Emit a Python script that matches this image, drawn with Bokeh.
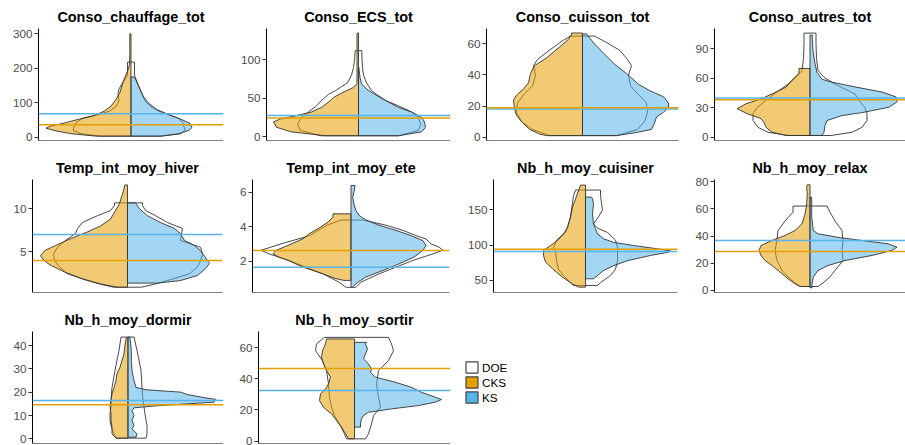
from bokeh.plotting import figure
from bokeh.models import Range1d, Span, FixedTicker, Legend, LegendItem, ColumnDataSource
from bokeh.layouts import row, column
from bokeh.embed import file_html
from bokeh.resources import INLINE

# ---------------- data ----------------
TITLES = ["Conso_chauffage_tot", "Conso_ECS_tot", "Conso_cuisson_tot", "Conso_autres_tot",
          "Temp_int_moy_hiver", "Temp_int_moy_ete", "Nb_h_moy_cuisiner", "Nb_h_moy_relax",
          "Nb_h_moy_dormir", "Nb_h_moy_sortir"]

Y_TICKS = [[0, 100, 200, 300], [0, 50, 100], [0, 20, 40, 60], [0, 30, 60, 90],
           [5, 10], [2, 4, 6], [50, 100, 150], [0, 20, 40, 60, 80],
           [0, 10, 20, 30, 40], [0, 20, 40, 60]]

# horizontal reference lines (CKS = orange, KS = blue)
CKS_LINE = [36, 24, 18.9, 38, 3.95, 2.64, 94.3, 28.6, 14.6, 46.5]
KS_LINE = [68, 27.4, 18.2, 40, 7.0, 1.67, 91, 36.7, 16.4, 32.4]

# half-violin profiles: (value, half-width)
CHAUFFAGE_CKS = [(3, 35), (10, 60), (18, 75), (26, 85), (33, 80), (40, 68), (50, 55), (62, 38), (75, 27), (90, 20),
                 (110, 15), (130, 11), (150, 9), (175, 6), (195, 3), (212, 1.5), (240, 1.2), (300, 1.2)]
CHAUFFAGE_KS = [(3, 30), (10, 48), (20, 58), (28, 61), (40, 59), (52, 50), (65, 38), (80, 26), (100, 17), (120, 12),
                (145, 8), (165, 5), (175, 3)]
ECS_CKS = [(1, 33), (6, 67), (12, 82), (19, 85), (23, 78), (27, 63), (32, 47), (38, 37), (47, 28), (51, 25), (58, 15),
           (64, 5), (69, 1.5), (100, 1.5), (135, 1.5)]
ECS_KS = [(1, 40), (6, 63), (12, 67), (19, 66), (25, 63), (32, 53), (38, 40), (47, 27), (56, 15), (62, 8), (69, 3),
          (77, 1.5), (86, 0.7), (90, 0.5)]
CUISSON_CKS = [(1, 36), (2, 43), (5, 53), (10, 61), (14, 66), (18, 68), (24, 69), (27, 66), (31, 59), (35, 54), (41, 52),
               (46, 48), (51, 36), (58, 23), (63, 14), (66, 11), (67, 11)]
CUISSON_KS = [(1, 34), (3, 54), (5, 69), (9, 72), (13, 74), (16, 81), (19, 86), (22, 86), (26, 81), (30, 67), (34, 56),
              (41, 44), (47, 32), (54, 21), (60, 12), (64, 7), (66.4, 4)]
AUTRES_CKS = [(1.7, 24), (5, 38), (10, 44), (15, 46), (19, 49), (24, 63), (29, 73), (34, 64), (39, 49), (44, 38),
              (51, 24), (58, 18), (65, 11), (70, 11)]
AUTRES_KS = [(1.7, 12), (5, 14), (12, 15), (17, 17), (22, 32), (25, 52), (30.5, 79), (36, 87), (41, 86), (46, 72),
             (51, 46), (56, 22), (59, 12), (66, 7), (75, 5), (88, 3), (100, 2.3), (104, 2.3)]
HIVER_CKS = [(0.82, 10), (1.2, 27), (1.8, 45), (2.6, 63), (3.4, 77), (3.9, 83), (4.5, 87), (5.1, 83), (5.7, 72),
             (6.5, 57), (7.3, 40), (8.0, 27), (8.8, 17), (9.8, 12), (10.6, 8), (11.4, 6), (12.1, 4), (12.8, 2.7)]
HIVER_KS = [(1.3, 30), (1.6, 53), (2.2, 70), (3.0, 78), (3.6, 82), (4.3, 78), (5.1, 73), (5.7, 67), (6.3, 57),
            (7.1, 53), (7.7, 47), (8.4, 33), (9.2, 20), (10.0, 12), (10.7, 8)]
ETE_CKS = [(0.9, 7), (1.0, 15), (1.28, 28), (1.67, 48), (2.06, 63), (2.25, 72), (2.44, 78), (2.64, 75), (2.93, 63),
           (3.31, 48), (3.6, 42), (3.9, 33), (4.28, 23), (4.57, 18), (4.76, 18)]
ETE_KS = [(0.51, 1.5), (0.6, 3), (0.8, 7), (1.1, 15), (1.48, 32), (1.86, 48), (2.25, 63), (2.64, 72), (2.93, 75),
          (3.2, 72), (3.5, 60), (3.8, 45), (4.1, 28), (4.4, 15), (4.67, 8), (4.96, 5), (5.25, 3.3), (5.73, 1.7),
          (6.1, 3.3), (6.4, 4)]
CUISINER_CKS = [(40.6, 7), (45, 13), (54.7, 23), (66.5, 33), (76, 40), (85.4, 42), (92.5, 42), (99.5, 35), (106.6, 28),
                (116, 22), (125.5, 18), (139.6, 15), (153.8, 13), (165.6, 10), (177, 7), (185, 5)]
CUISINER_KS = [(52.4, 8), (57, 12), (64, 18), (71, 28), (78, 42), (85.4, 65), (90, 83), (92, 85), (94.8, 72),
               (99.5, 48), (104, 28), (109, 18), (116, 12), (130, 8), (144, 7), (158, 8), (165.6, 7), (168, 6)]
RELAX_CKS = [(2.9, 10), (4.9, 15), (8.6, 22), (13.5, 30), (18.3, 38), (22, 45), (25.7, 49), (29.4, 51), (33, 49),
             (36.7, 38), (40.4, 25), (44, 15), (49, 8), (56, 5), (63.6, 3.3), (71, 2.7), (75.8, 3.3), (77.6, 2.7)]
RELAX_KS = [(2, 2), (4.9, 2), (9.8, 3.3), (14.7, 8), (18.3, 18), (22, 35), (25.7, 62), (29.4, 82), (31.8, 87),
            (34.3, 78), (36.7, 52), (39, 28), (41.6, 8), (44, 3.3), (53.8, 1.7), (63.6, 1.7), (68.5, 1.7)]
DORMIR_CKS = [(0.3, 12), (2.1, 16), (5, 16), (7.9, 17), (10.7, 17), (13.6, 18), (16.4, 17), (19.3, 16), (22, 14),
              (25, 12), (27.9, 11), (30.7, 8), (33.6, 6), (36.4, 4), (39.3, 3.3), (42, 2.3), (43.3, 1.7)]
DORMIR_KS = [(0.7, 8), (2.1, 9), (4.3, 4), (5.7, 6), (7.9, 4), (10, 6), (12, 4), (13.3, 6), (14.3, 33), (15.7, 86),
             (16.9, 88), (17.9, 73), (19, 59), (20, 53), (21, 19), (22, 8), (25, 6), (29.3, 4), (33.6, 3.3),
             (37.9, 3.3), (40.7, 2.7), (42.9, 2), (43.6, 2)]
SORTIR_CKS = [(1.5, 6), (4.7, 9), (9, 13), (13.2, 18), (17.5, 23), (21.7, 31), (26, 35), (30.3, 34), (33.5, 29),
              (36.7, 26), (41, 24), (45.2, 28), (49.5, 31), (53.7, 33), (58, 32), (62.3, 29), (65.5, 28)]
SORTIR_KS = [(9, 6), (11, 6), (14.3, 7), (16.4, 9), (18.5, 14), (20.7, 37), (22.8, 64), (25, 81), (26.7, 87),
             (28.1, 81), (31.3, 67), (34.5, 57), (37.7, 41), (41, 21), (44, 16), (46.3, 17), (49.5, 14), (52.7, 9),
             (55.9, 11), (59, 13), (62.3, 11), (63.3, 12)]

# full DOE violins: (value, left half-width, right half-width)
CHAUFFAGE_DOE = [(3, 30, 30), (10, 50, 50), (20, 58, 54), (30, 57, 53), (42, 55, 52), (55, 48, 47), (65, 33, 38),
                 (75, 22, 28), (88, 15, 20), (105, 12, 14), (125, 13, 11), (140, 12, 9), (160, 8, 6),
                 (180, 3.5, 3.5), (218, 3.5, 3.5)]
ECS_DOE = [(1, 38, 40), (8, 58, 60), (16, 61, 62), (25, 57, 60), (32, 50, 53), (40, 42, 40), (47, 37, 27),
           (55, 30, 18), (60, 23, 13), (70, 11, 8), (80, 7, 5), (90, 5, 4), (100, 4, 3.5), (112, 3.3, 3.3)]
CUISSON_DOE = [(1, 33, 34), (5, 50, 55), (10, 61, 62), (16, 66, 65), (22, 65, 64), (28, 58, 55), (33, 50, 48),
               (40, 47, 46), (46, 49, 49), (50, 45, 45), (56, 33, 37), (62, 20, 21), (65, 12, 12)]
AUTRES_DOE = [(1.7, 21, 21), (5, 42, 42), (10, 52, 52), (17, 57, 57), (24, 57, 57), (30, 53, 55), (36, 46, 50),
              (44, 36, 45), (54, 22, 25), (61, 14, 14), (68, 8, 8), (80, 6.5, 6.5), (95, 6, 6), (106, 6, 6)]
HIVER_DOE = [(0.82, 14, 14), (1.2, 28, 28), (1.6, 40, 40), (2.4, 60, 62), (3.2, 68, 70), (3.9, 73, 73),
             (4.7, 74, 75), (5.5, 70, 73), (6.3, 62, 53), (7.1, 52, 54), (7.7, 50, 55), (8.4, 45, 40),
             (9.2, 30, 28), (9.8, 17, 18), (10.4, 13, 15), (10.7, 13, 15)]
ETE_DOE = [(0.5, 5, 5), (0.8, 12, 10), (1.28, 28, 28), (1.67, 45, 45), (2.06, 62, 62), (2.44, 82, 82),
           (2.65, 90, 92), (2.83, 80, 88), (3.02, 70, 80), (3.3, 53, 75), (3.5, 41, 65), (3.8, 33, 52),
           (4.1, 24, 35), (4.4, 10, 12)]
CUISINER_DOE = [(43, 12, 12), (47, 15, 15), (57, 22, 25), (66, 27, 30), (78, 29, 32), (90, 30, 32), (97, 32, 32),
                (107, 29, 30), (118, 20, 22), (124, 18, 12), (130, 17, 8), (140, 15, 13), (150, 14, 17),
                (160, 13, 16), (170, 12, 15), (178, 10, 15)]
RELAX_DOE = [(2.9, 10, 8), (5.5, 15, 13), (10, 22, 20), (14.7, 28, 25), (22, 33, 33), (29.4, 35, 32),
             (36.7, 33, 33), (44, 32, 32), (51, 25, 25), (57.5, 17, 20), (62, 17, 17)]
DORMIR_DOE = [(0.3, 12, 18), (2.1, 14, 19), (4.3, 16, 19), (5.7, 17, 19), (7.9, 18, 18), (10.7, 18, 17),
              (13.6, 17, 16), (16.4, 17, 15), (22, 16, 14), (29.3, 13, 13), (37.9, 9, 9), (43.6, 7, 6)]
SORTIR_DOE = [(1.5, 8, 11), (4.7, 10, 14), (11, 15, 17), (16.4, 20, 19), (21.7, 23, 26), (28, 25, 24),
              (36.7, 26, 22), (45.2, 28, 24), (51.6, 32, 34), (58, 39, 39), (62.3, 38, 37), (66.5, 30, 34)]

DOE_PROFILES = [CHAUFFAGE_DOE, ECS_DOE, CUISSON_DOE, AUTRES_DOE, HIVER_DOE, ETE_DOE, CUISINER_DOE, RELAX_DOE,
                DORMIR_DOE, SORTIR_DOE]
CKS_PROFILES = [CHAUFFAGE_CKS, ECS_CKS, CUISSON_CKS, AUTRES_CKS, HIVER_CKS, ETE_CKS, CUISINER_CKS, RELAX_CKS,
                DORMIR_CKS, SORTIR_CKS]
KS_PROFILES = [CHAUFFAGE_KS, ECS_KS, CUISSON_KS, AUTRES_KS, HIVER_KS, ETE_KS, CUISINER_KS, RELAX_KS,
               DORMIR_KS, SORTIR_KS]

GROUPS = ["DOE", "CKS", "KS"]

# ---------------- layout / style ----------------
ORANGE = "#E69F00"
BLUE = "#56B4E9"
OUTLINE = "#333333"
FONT = "Liberation Sans"

# y ranges of each panel
Y_RANGES = [(-9.7, 315.5), (-5.2, 140.9), (-2.14, 69.9), (-3.4, 110.7),
            (0.2, 13.44), (0.2, 6.75), (33, 192.9), (-1.5, 81.5),
            (-2.0, 46.0), (-1.5, 70.25)]
# (fig width, fig height, border left, border right, border top, border bottom)
GEOM = [(227, 151, 38, 4, 28, 11), (227, 151, 39, 4, 28, 11), (227, 151, 32, 3, 28, 11), (224, 151, 33, 0, 28, 11),
        (227, 151, 32, 5, 28, 10), (227, 151, 25, 5, 28, 10), (227, 151, 39, 4, 28, 10), (224, 151, 33, 0, 28, 10),
        (227, 143, 32, 4, 29, 2), (227, 143, 31, 4, 29, 2)]


def half_shape(profile, side):
    ys = [p[0] for p in profile]
    ws = [p[1] for p in profile]
    xs = [0] + [side * w for w in ws] + [0]
    yy = [ys[0]] + ys + [ys[-1]]
    return xs, yy


def full_shape(profile):
    ys = [p[0] for p in profile]
    xs = [p[2] for p in profile] + [-p[1] for p in reversed(profile)]
    yy = ys + ys[::-1]
    return xs, yy


def make_panel(i):
    fw, fh, bl, br, bt, bb = GEOM[i]
    frame_w = fw - bl - br
    y0, y1 = Y_RANGES[i]
    p = figure(width=fw, height=fh, output_backend="svg", toolbar_location=None,
               x_range=Range1d(-frame_w / 2, frame_w / 2), y_range=Range1d(y0, y1),
               x_axis_location=None, min_border_left=bl, min_border_right=br,
               min_border_top=bt, min_border_bottom=bb)
    p.grid.visible = False
    p.outline_line_color = None
    p.background_fill_color = "white"
    p.border_fill_color = "white"

    p.title.text = TITLES[i]
    p.title.align = "center"
    p.title.text_font = FONT
    p.title.text_font_size = "14.4px"
    p.title.text_font_style = "bold"
    p.title.text_color = "black"
    p.title.standoff = 8

    ax = p.yaxis[0]
    ax.ticker = FixedTicker(ticks=Y_TICKS[i])
    ax.major_label_text_font = FONT
    ax.major_label_text_font_size = "11.7px"
    ax.major_label_text_color = "#4D4D4D"
    ax.axis_line_color = "black"
    ax.axis_line_width = 1
    ax.major_tick_line_color = "#333333"
    ax.major_tick_out = 4
    ax.major_tick_in = 0
    ax.minor_tick_line_color = None
    ax.major_label_standoff = 2

    xs, ys = full_shape(DOE_PROFILES[i])
    p.patch(xs, ys, fill_color="white", line_color=OUTLINE, line_width=0.9)
    xs, ys = half_shape(CKS_PROFILES[i], -1)
    p.patch(xs, ys, fill_color=ORANGE, fill_alpha=0.55, line_color=OUTLINE, line_width=0.9)
    xs, ys = half_shape(KS_PROFILES[i], 1)
    p.patch(xs, ys, fill_color=BLUE, fill_alpha=0.55, line_color=OUTLINE, line_width=0.9)

    p.add_layout(Span(location=KS_LINE[i], dimension="width", line_color=BLUE, line_width=1.5))
    p.add_layout(Span(location=CKS_LINE[i], dimension="width", line_color=ORANGE, line_width=1.5))
    p.add_layout(Span(location=y0, dimension="width", line_color="black", line_width=1.2))
    return p


panels = [make_panel(i) for i in range(10)]

# legend panel (same borders as the other panels of its row, so the frames stay aligned)
lg = figure(width=227, height=143, output_backend="svg", toolbar_location=None,
            x_range=Range1d(0, 1), y_range=Range1d(0, 1), x_axis_location=None, y_axis_location=None,
            min_border_left=0, min_border_right=0, min_border_top=29, min_border_bottom=2)
lg.grid.visible = False
lg.outline_line_color = None
key_fill = {"DOE": "white", "CKS": ORANGE, "KS": BLUE}
nan = float("nan")
items = []
for g in GROUPS:
    # one undrawable (NaN) quad per group, so the legend has a glyph to show
    src = ColumnDataSource(dict(left=[nan], right=[nan], top=[nan], bottom=[nan]))
    r = lg.quad(left="left", right="right", top="top", bottom="bottom", source=src,
                fill_color=key_fill[g], line_color="#444444", line_width=1.2)
    items.append(LegendItem(label=g, renderers=[r]))
legend = Legend(items=items, location=(10, 39), margin=0, padding=0, spacing=1,
                glyph_width=15, glyph_height=14, label_height=14, label_standoff=3,
                label_text_font=FONT, label_text_font_size="11.7px", label_text_color="black",
                border_line_color=None, background_fill_alpha=0)
lg.add_layout(legend)

layout = column(row(*panels[0:4]), row(*panels[4:8]), row(panels[8], panels[9], lg))

open("out.html", "w").write(file_html(layout, INLINE))
